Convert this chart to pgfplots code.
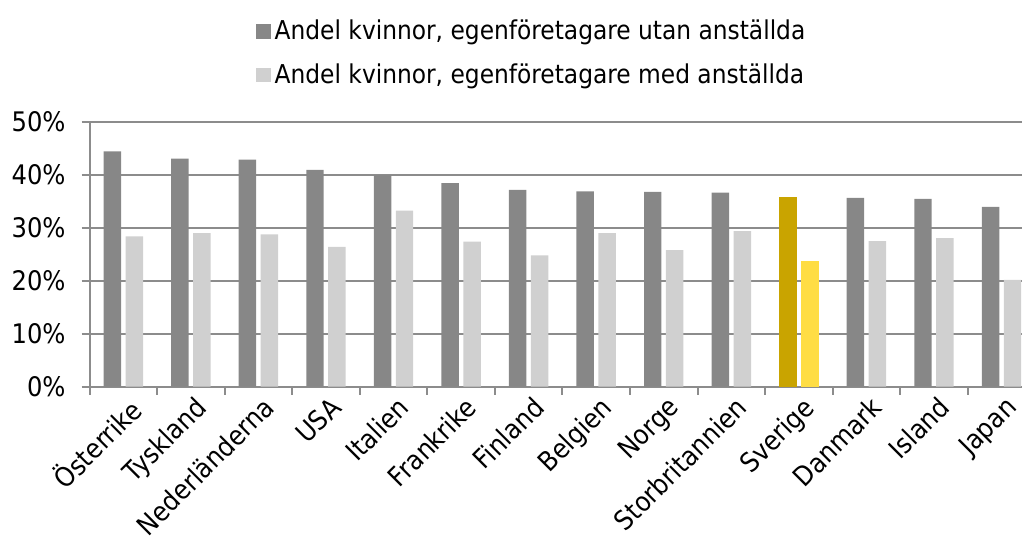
\documentclass[border=0pt]{standalone}
\usepackage{pgfplots}
\pgfplotsset{compat=1.18}
\usepackage{fontspec}
\setmainfont{DejaVu Sans Condensed}
\definecolor{darkbar}{HTML}{878787}
\definecolor{lightbar}{HTML}{D0D0D0}
\definecolor{svdark}{HTML}{C9A400}
\definecolor{svlight}{HTML}{FFDD44}
\definecolor{axisgray}{HTML}{8C8C8C}

% 0 Österrike ... 13 Japan
\pgfplotstableread{
x utan med
0 44.5 28.4
1 43.1 29.0
2 42.9 28.8
3 41.0 26.4
4 40.0 33.3
5 38.5 27.4
6 37.2 24.8
7 36.9 29.0
8 36.8 25.8
9 36.7 29.4
10 0 0
11 35.7 27.5
12 35.5 28.1
13 34.0 20.2
}\landtab

\begin{document}
\begin{tikzpicture}
\begin{axis}[
    scale only axis,
    width=467.5pt, height=132.5pt,
    xmin=-0.5, xmax=13.31,
    ymin=0, ymax=50,
    axis x line*=bottom, axis y line*=left,
    axis line style={draw=axisgray, line width=1pt},
    ymajorgrids,
    grid style={draw=axisgray, line width=1pt},
    ytick={0,10,...,50},
    yticklabel={\pgfmathprintnumber{\tick}\%},
    y tick label style={xshift=-4.5pt},
    xtick={0,...,13},
    xticklabels={Österrike, Tyskland, Nederländerna, USA, Italien, Frankrike, Finland, Belgien, Norge, Storbritannien, Sverige, Danmark, Island, Japan},
    x tick label style={rotate=45, anchor=north east, inner sep=1pt, xshift=2pt},
    minor xtick={-0.5,0.5,...,12.5},
    major x tick style={draw=none},
    minor x tick style={draw=axisgray, line width=1pt},
    major y tick style={draw=axisgray, line width=1pt},
    tick align=outside,
    major tick length=4pt, minor tick length=4pt,
    tick label style={font=\fontsize{13.5}{16}\selectfont},
    /pgf/number format/assume math mode=true,
    ybar, bar width=8.75pt,
    legend style={draw=none, at={(0.475,1.104)}, anchor=south,
        font=\fontsize{13}{15}\selectfont, row sep=6.5pt,
        /tikz/every even column/.append style={column sep=3.5pt}},
    legend cell align=left,
    legend image code/.code={\fill[#1] (0pt,-3.7pt) rectangle (7.4pt,3.7pt);},
]
\addplot[fill=darkbar, draw=none, bar shift=-5.5pt] table[x=x, y=utan] {\landtab};
\addplot[fill=lightbar, draw=none, bar shift=5.5pt] table[x=x, y=med] {\landtab};
\addplot[fill=svdark, draw=none, bar shift=-5.5pt, forget plot] coordinates {(10,35.8)};
\addplot[fill=svlight, draw=none, bar shift=5.5pt, forget plot] coordinates {(10,23.8)};
\legend{{Andel kvinnor, egenföretagare utan anställda}, {Andel kvinnor, egenföretagare med anställda}}
\end{axis}
\path ([yshift=6pt]current bounding box.north) ([xshift=-2.5pt]current bounding box.west);
\end{tikzpicture}
\end{document}
